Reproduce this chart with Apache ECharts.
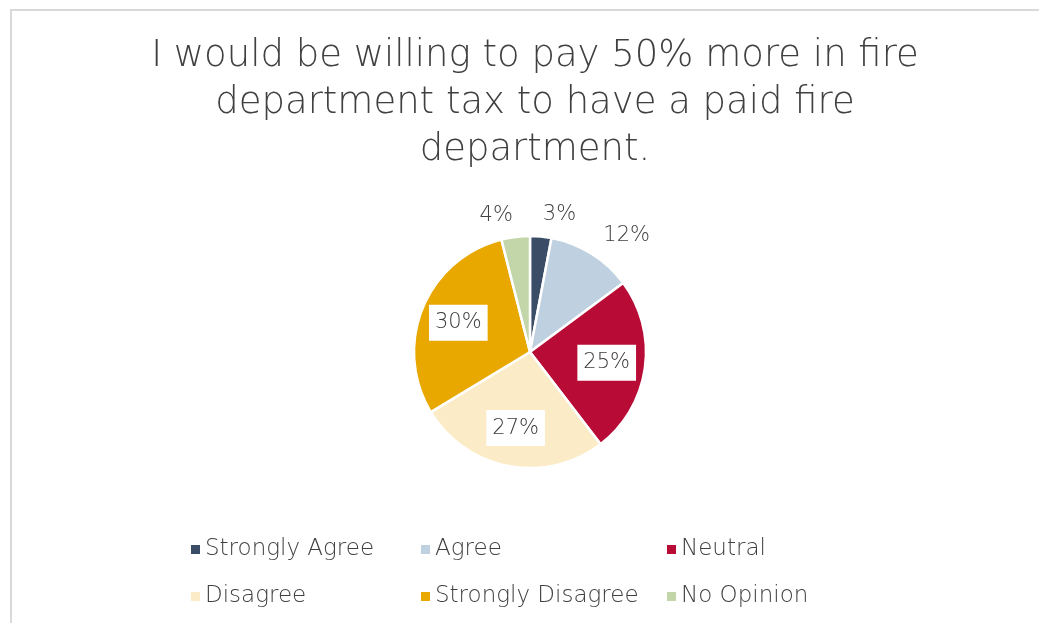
<!DOCTYPE html>
<html>
<head>
<meta charset="utf-8">
<script src="https://cdn.jsdelivr.net/npm/echarts@6/dist/echarts.min.js"></script>
<style>
  html, body { margin: 0; padding: 0; background: #ffffff; }
  #chart { width: 1039px; height: 623px; }
</style>
</head>
<body>
<div id="chart"></div>
<script>
// Survey answers and their share of responses (percent)
const categories = ['Strongly Agree', 'Agree', 'Neutral', 'Disagree', 'Strongly Disagree', 'No Opinion'];
const shares = [3, 12, 25, 27, 30, 4];
const colors = ['#3b4d66', '#bfd1e0', '#b80c36', '#fcebc7', '#e8a800', '#c3d6a9'];
// Slices whose percentage sits inside the wedge on a white box
const insideLabels = ['Neutral', 'Disagree', 'Strongly Disagree'];
// Legend columns (top row item, bottom row item)
const legendColumns = [
  ['Strongly Agree', 'Disagree'],
  ['Agree', 'Strongly Disagree'],
  ['Neutral', 'No Opinion']
];

const titleText = 'I would be willing to pay 50% more in fire\ndepartment tax to have a paid fire\ndepartment.';

const FONT = '"DejaVu Sans"';
const TEXT_COLOR = '#404040';
const CX = 530, CY = 352, R = 116;

const chart = echarts.init(document.getElementById('chart'), null, { renderer: 'canvas' });

const pieData = categories.map((name, i) => {
  const inside = insideLabels.includes(name);
  return {
    name: name,
    value: shares[i],
    itemStyle: { color: colors[i] },
    label: inside ? {
      position: 'inside',
      backgroundColor: '#ffffff',
      padding: [8, 6, 7, 6],
      color: '#3a3a3a'
    } : { position: 'outside' }
  };
});

const legendX = [186, 416, 662];
const legends = legendColumns.map((col, c) => ({
  orient: 'vertical',
  left: legendX[c],
  top: 533,
  itemWidth: 9,
  itemHeight: 9,
  itemGap: 24,
  icon: 'rect',
  data: col,
  textStyle: { fontFamily: FONT, fontWeight: 200, fontSize: 23, color: TEXT_COLOR, padding: [0, 0, 0, 0] },
  itemStyle: { borderWidth: 0 }
}));

chart.setOption({
  backgroundColor: '#ffffff',
  animation: false,
  color: colors,
  title: {
    text: titleText,
    left: CX,
    top: 28,
    textAlign: 'center',
    textStyle: {
      fontFamily: FONT,
      fontWeight: 200,
      fontSize: 37,
      lineHeight: 47,
      color: TEXT_COLOR
    }
  },
  legend: legends,
  graphic: [{
    type: 'rect',
    shape: { x: 11, y: 10, width: 1200, height: 800 },
    style: { fill: 'none', stroke: '#d9d9d9', lineWidth: 2 },
    silent: true
  }],
  series: [{
    type: 'pie',
    center: [CX, CY],
    radius: [0, R],
    startAngle: 90,
    clockwise: true,
    avoidLabelOverlap: false,
    itemStyle: { borderColor: '#ffffff', borderWidth: 2.5 },
    label: {
      show: true,
      formatter: '{c}%',
      fontFamily: FONT,
      fontWeight: 200,
      fontSize: 21,
      color: TEXT_COLOR,
      distanceToLabelLine: 0
    },
    labelLine: { show: false, length: 22, length2: 0 },
    labelLayout: function (params) {
      const name = categories[params.dataIndex];
      if (!insideLabels.includes(name)) return {};
      // push the boxed labels outward along their radius
      const r = params.labelRect;
      const mx = r.x + r.width / 2 - CX;
      const my = r.y + r.height / 2 - CY;
      const k = 1.27;
      return { x: CX + mx * k, y: CY + my * k };
    },
    data: pieData
  }]
});
</script>
</body>
</html>
